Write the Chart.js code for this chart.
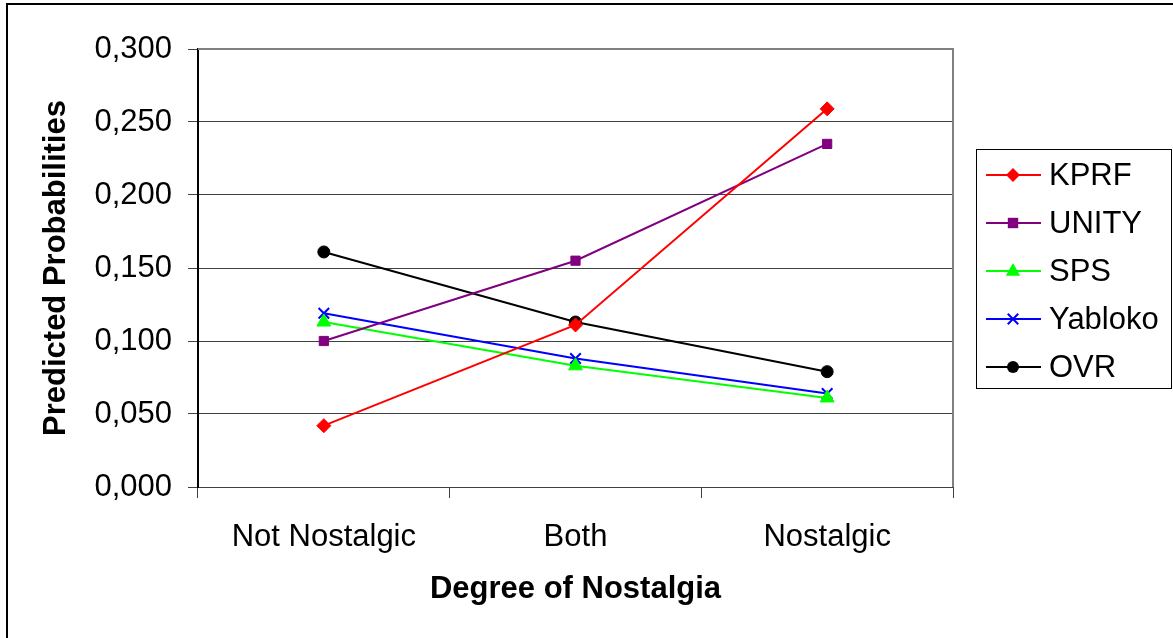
<!DOCTYPE html>
<html>
<head>
<meta charset="utf-8">
<script src="https://cdn.jsdelivr.net/npm/chart.js@4/dist/chart.umd.min.js"></script>
<style>
  html, body { margin: 0; padding: 0; background: #fff; }
  #wrap { width: 1173px; height: 638px; position: relative; }
</style>
</head>
<body>
<div id="wrap"><canvas id="c" width="1173" height="638"></canvas></div>
<script>
const categories = ["Not Nostalgic", "Both", "Nostalgic"];
const seriesNames = ["KPRF", "UNITY", "SPS", "Yabloko", "OVR"];
const kprf    = [0.042, 0.111, 0.259];
const unity   = [0.100, 0.155, 0.235];
const sps     = [0.113, 0.083, 0.061];
const yabloko = [0.119, 0.088, 0.064];
const ovr     = [0.161, 0.113, 0.079];
const yTicks  = [0, 0.05, 0.1, 0.15, 0.2, 0.25, 0.3];
const xTitle = "Degree of Nostalgia";
const yTitle = "Predicted Probabilities";

const FONT = "'Liberation Sans', Arial, sans-serif";
const styles = [
  { color: "#FF0000", pointStyle: "rectRot", radius: 7 },
  { color: "#800080", pointStyle: "rect", radius: 6.5 },
  { color: "#00FF00", pointStyle: "triangle", radius: 8 },
  { color: "#0000FF", pointStyle: "crossRot", radius: 7.5 },
  { color: "#000000", pointStyle: "circle", radius: 6 }
];
const values = [kprf, unity, sps, yabloko, ovr];

const datasets = seriesNames.map((name, i) => ({
  label: name,
  data: values[i],
  borderColor: styles[i].color,
  backgroundColor: styles[i].color,
  pointBackgroundColor: styles[i].color,
  pointBorderColor: styles[i].color,
  pointStyle: styles[i].pointStyle,
  pointRadius: styles[i].radius,
  pointBorderWidth: styles[i].pointStyle === "crossRot" ? 2 : 1,
  borderWidth: 2,
  tension: 0,
  fill: false
}));

const framePlugin = {
  id: "frame",
  beforeDraw(chart) {
    const ctx = chart.ctx;
    ctx.save();
    ctx.fillStyle = "#fff";
    ctx.fillRect(0, 0, chart.width, chart.height);
    ctx.strokeStyle = "#000";
    ctx.lineWidth = 2;
    ctx.strokeRect(7, 4, chart.width + 20, chart.height + 20);
    ctx.restore();
  },
  beforeDatasetsDraw(chart) {
    const a = chart.chartArea, ctx = chart.ctx;
    ctx.save();
    ctx.strokeStyle = "#808080";
    ctx.lineWidth = 2;
    ctx.beginPath();
    ctx.moveTo(a.left, a.top);
    ctx.lineTo(a.right, a.top);
    ctx.lineTo(a.right, a.bottom);
    ctx.stroke();
    ctx.restore();
  }
};

function drawMarker(ctx, st, x, y) {
  const r = st.radius;
  ctx.save();
  ctx.fillStyle = st.color;
  ctx.strokeStyle = st.color;
  ctx.lineWidth = 2;
  ctx.beginPath();
  switch (st.pointStyle) {
    case "rectRot":
      ctx.moveTo(x, y - r); ctx.lineTo(x + r, y); ctx.lineTo(x, y + r); ctx.lineTo(x - r, y); ctx.closePath(); ctx.fill(); break;
    case "rect":
      ctx.fillRect(x - r * 0.8, y - r * 0.8, r * 1.6, r * 1.6); break;
    case "triangle":
      ctx.moveTo(x, y - r); ctx.lineTo(x + r * 0.9, y + r * 0.6); ctx.lineTo(x - r * 0.9, y + r * 0.6); ctx.closePath(); ctx.fill(); break;
    case "crossRot":
      const d = r * 0.7;
      ctx.moveTo(x - d, y - d); ctx.lineTo(x + d, y + d); ctx.moveTo(x + d, y - d); ctx.lineTo(x - d, y + d); ctx.stroke(); break;
    default:
      ctx.arc(x, y, r, 0, Math.PI * 2); ctx.fill();
  }
  ctx.restore();
}

const legendPlugin = {
  id: "customLegend",
  afterDraw(chart) {
    const ctx = chart.ctx;
    const a = chart.chartArea;
    const boxL = a.right + 23, boxT = 149, boxW = 195, boxH = 239;
    ctx.save();
    ctx.fillStyle = "#fff";
    ctx.fillRect(boxL, boxT, boxW, boxH);
    ctx.strokeStyle = "#000";
    ctx.lineWidth = 1;
    ctx.strokeRect(boxL + 0.5, boxT + 0.5, boxW, boxH);
    ctx.font = "31px " + FONT;
    ctx.textBaseline = "middle";
    ctx.textAlign = "left";
    chart.data.datasets.forEach((ds, i) => {
      const y = boxT + 26 + i * 48;
      ctx.strokeStyle = ds.borderColor;
      ctx.lineWidth = 2;
      ctx.beginPath();
      ctx.moveTo(boxL + 10, y);
      ctx.lineTo(boxL + 65, y);
      ctx.stroke();
      drawMarker(ctx, styles[i], boxL + 37, y);
      ctx.fillStyle = "#000";
      ctx.fillText(ds.label, boxL + 73, y + 1);
    });
    ctx.restore();
  }
};

new Chart(document.getElementById("c"), {
  type: "line",
  data: { labels: categories, datasets },
  options: {
    responsive: false,
    animation: false,
    devicePixelRatio: 1,
    layout: { padding: { left: 38, top: 49, right: 220, bottom: 30 } },
    plugins: { legend: { display: false }, tooltip: { enabled: false } },
    scales: {
      x: {
        type: "category",
        offset: true,
        afterFit(s) { s.height = 121; },
        grid: { offset: true, drawOnChartArea: false, drawTicks: true, tickLength: 11, color: "#404040", lineWidth: 1 },
        border: { color: "#404040", width: 1 },
        ticks: { color: "#000", font: { family: FONT, size: 31 }, padding: 21, maxRotation: 0 },
        title: { display: true, text: xTitle, color: "#000", font: { family: FONT, size: 31, weight: "bold" }, padding: { top: 0, bottom: 0 } }
      },
      y: {
        min: 0, max: 0.3,
        afterFit(s) { s.width = 160; },
        afterBuildTicks(s) { s.ticks = yTicks.map(v => ({ value: v })); },
        grid: { color: "#404040", lineWidth: 1, tickLength: 10, drawTicks: true },
        border: { color: "#000", width: 2 },
        ticks: {
          color: "#000", font: { family: FONT, size: 31 }, padding: 16,
          callback: v => v.toFixed(3).replace(".", ",")
        },
        title: { display: true, text: yTitle, color: "#000", font: { family: FONT, size: 31, weight: "bold" }, padding: { top: 0, bottom: 0 } }
      }
    }
  },
  plugins: [framePlugin, legendPlugin]
});
</script>
</body>
</html>
